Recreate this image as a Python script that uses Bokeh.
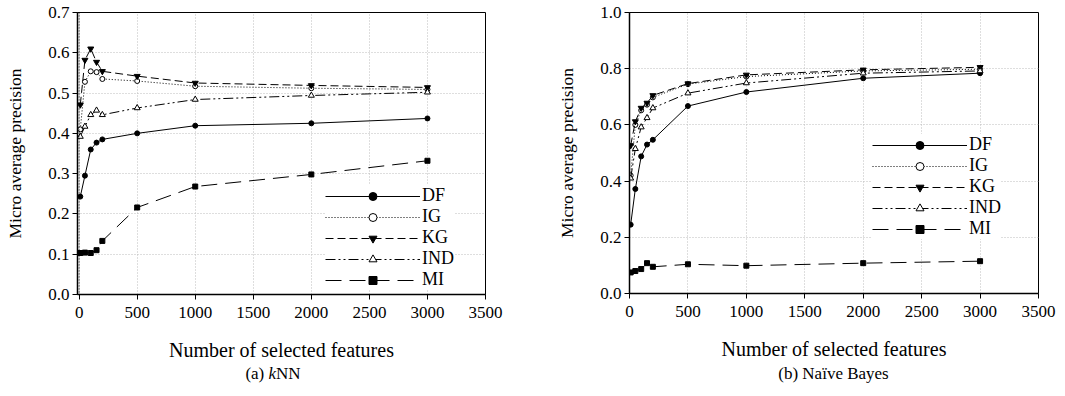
from bokeh.plotting import figure
from bokeh.layouts import row, column
from bokeh.models import (Legend, LegendItem, Div, Span, FixedTicker,
                          CustomJSTickFormatter)
from bokeh.embed import file_html
from bokeh.resources import INLINE

# ---- data ----
features = [10, 50, 100, 150, 200, 500, 1000, 2000, 3000]
series_names = ["DF", "IG", "KG", "IND", "MI"]

knn_df = [0.243, 0.295, 0.360, 0.377, 0.385, 0.400, 0.419, 0.425, 0.437]
knn_ig = [0.410, 0.528, 0.554, 0.552, 0.535, 0.530, 0.517, 0.512, 0.509]
knn_kg = [0.471, 0.582, 0.610, 0.577, 0.554, 0.542, 0.525, 0.519, 0.514]
knn_ind = [0.392, 0.417, 0.446, 0.457, 0.446, 0.463, 0.484, 0.494, 0.502]
knn_mi = [0.103, 0.104, 0.103, 0.110, 0.133, 0.216, 0.268, 0.298, 0.332]

nb_df = [0.245, 0.372, 0.488, 0.530, 0.547, 0.667, 0.717, 0.766, 0.784]
nb_ig = [0.420, 0.600, 0.652, 0.672, 0.698, 0.745, 0.772, 0.792, 0.798]
nb_kg = [0.527, 0.612, 0.660, 0.678, 0.705, 0.747, 0.778, 0.796, 0.805]
nb_ind = [0.410, 0.515, 0.592, 0.625, 0.660, 0.713, 0.749, 0.784, 0.792]
nb_mi = [0.075, 0.080, 0.087, 0.108, 0.095, 0.104, 0.099, 0.108, 0.115]

x_ticks = [0, 500, 1000, 1500, 2000, 2500, 3000, 3500]
knn_y_ticks = [0.0, 0.1, 0.2, 0.3, 0.4, 0.5, 0.6, 0.7]
nb_y_ticks = [0.0, 0.2, 0.4, 0.6, 0.8, 1.0]

x_label = "Number of selected features"
y_label = "Micro average precision"

FONT = "Liberation Serif"

styles = {
    "DF": dict(dash="solid", marker="circle", fill="black", size=5),
    "IG": dict(dash="1 2", marker="circle", fill="white", size=5),
    "KG": dict(dash="8 4", marker="inverted_triangle", fill="black", size=6),
    "IND": dict(dash="10 3 2 3 2 3", marker="triangle", fill="white", size=6),
    "MI": dict(dash="16 8", marker="square", fill="black", size=5),
}


def make_plot(ys, y_end, y_ticks, bl, br, bt, fh, fw, leg_loc, x_start=0):
    p = figure(frame_width=fw, frame_height=fh, x_range=(x_start, 3500),
               y_range=(0, y_end), output_backend="svg", toolbar_location=None,
               min_border_left=bl, min_border_right=br, min_border_top=bt,
               min_border_bottom=70, background_fill_color="white",
               border_fill_color="white")
    p.outline_line_color = "black"
    p.outline_line_width = 1
    for ax in (p.xaxis, p.yaxis):
        ax.axis_line_width = 1.5
        ax.axis_line_color = "black"
        ax.major_tick_line_color = "black"
        ax.major_tick_in = 0
        ax.major_tick_out = 5
        ax.minor_tick_line_color = None
        ax.major_label_text_font = FONT
        ax.major_label_text_font_size = "17px"
        ax.major_label_text_color = "black"
        ax.axis_label_text_font = FONT
        ax.axis_label_text_font_style = "normal"
        ax.axis_label_text_color = "black"
    p.xaxis.ticker = FixedTicker(ticks=x_ticks)
    p.yaxis.ticker = FixedTicker(ticks=y_ticks)
    p.yaxis.formatter = CustomJSTickFormatter(code="return tick.toFixed(1);")
    p.xaxis.axis_label = x_label
    p.yaxis.axis_label = y_label
    p.xaxis.axis_label_text_font_size = "20px"
    p.yaxis.axis_label_text_font_size = "17.5px"
    p.xaxis.axis_label_standoff = 18
    p.yaxis.axis_label_standoff = 20
    p.xaxis.major_label_standoff = 7
    p.yaxis.major_label_standoff = 3
    for g in (p.xgrid, p.ygrid):
        g.grid_line_color = "#bdbdbd"
        g.grid_line_dash = "1 2"
        g.grid_line_width = 1
    p.xgrid.ticker = FixedTicker(ticks=x_ticks)
    p.ygrid.ticker = FixedTicker(ticks=y_ticks)

    items = []
    for name, y in zip(series_names, ys):
        s = styles[name]
        ln = p.line(features, y, line_color="black", line_width=1,
                    line_dash=s["dash"])
        sc = p.scatter(features, y, marker=s["marker"], size=s["size"],
                       line_color="black", fill_color=s["fill"], line_width=1)
        items.append(LegendItem(label=name, renderers=[ln, sc]))
    leg = Legend(items=items, location=leg_loc, glyph_width=95,
                 glyph_height=20, label_height=20, spacing=0, padding=0,
                 margin=0, label_standoff=2, border_line_color=None,
                 background_fill_color="white", background_fill_alpha=1,
                 label_text_font=FONT, label_text_font_size="18px",
                 label_text_color="black")
    p.add_layout(leg)
    return p


p1 = make_plot([knn_df, knn_ig, knn_kg, knn_ind, knn_mi], 0.7, knn_y_ticks,
               77, 55, 12, 282, 408, (248, 4), x_start=-14)
p1.add_layout(Span(location=0, dimension="height", line_color="black",
                   line_dash="1 2", line_width=1))
p2 = make_plot([nb_df, nb_ig, nb_kg, nb_ind, nb_mi], 1.0, nb_y_ticks,
               89, 24, 11, 281, 409, (243, 54))

cap_style = {"font-family": FONT, "font-size": "17px", "color": "black",
             "text-align": "center", "width": "100%"}
d1 = Div(text="(a) <i>k</i>NN", width=408, margin=(-2, 55, 0, 69),
         styles=cap_style)
d2 = Div(text="(b) Na&iuml;ve Bayes", width=409, margin=(-2, 24, 0, 97),
         styles=cap_style)

layout = column(row(p1, p2), row(d1, d2))
open("out.html", "w").write(file_html(layout, INLINE))
